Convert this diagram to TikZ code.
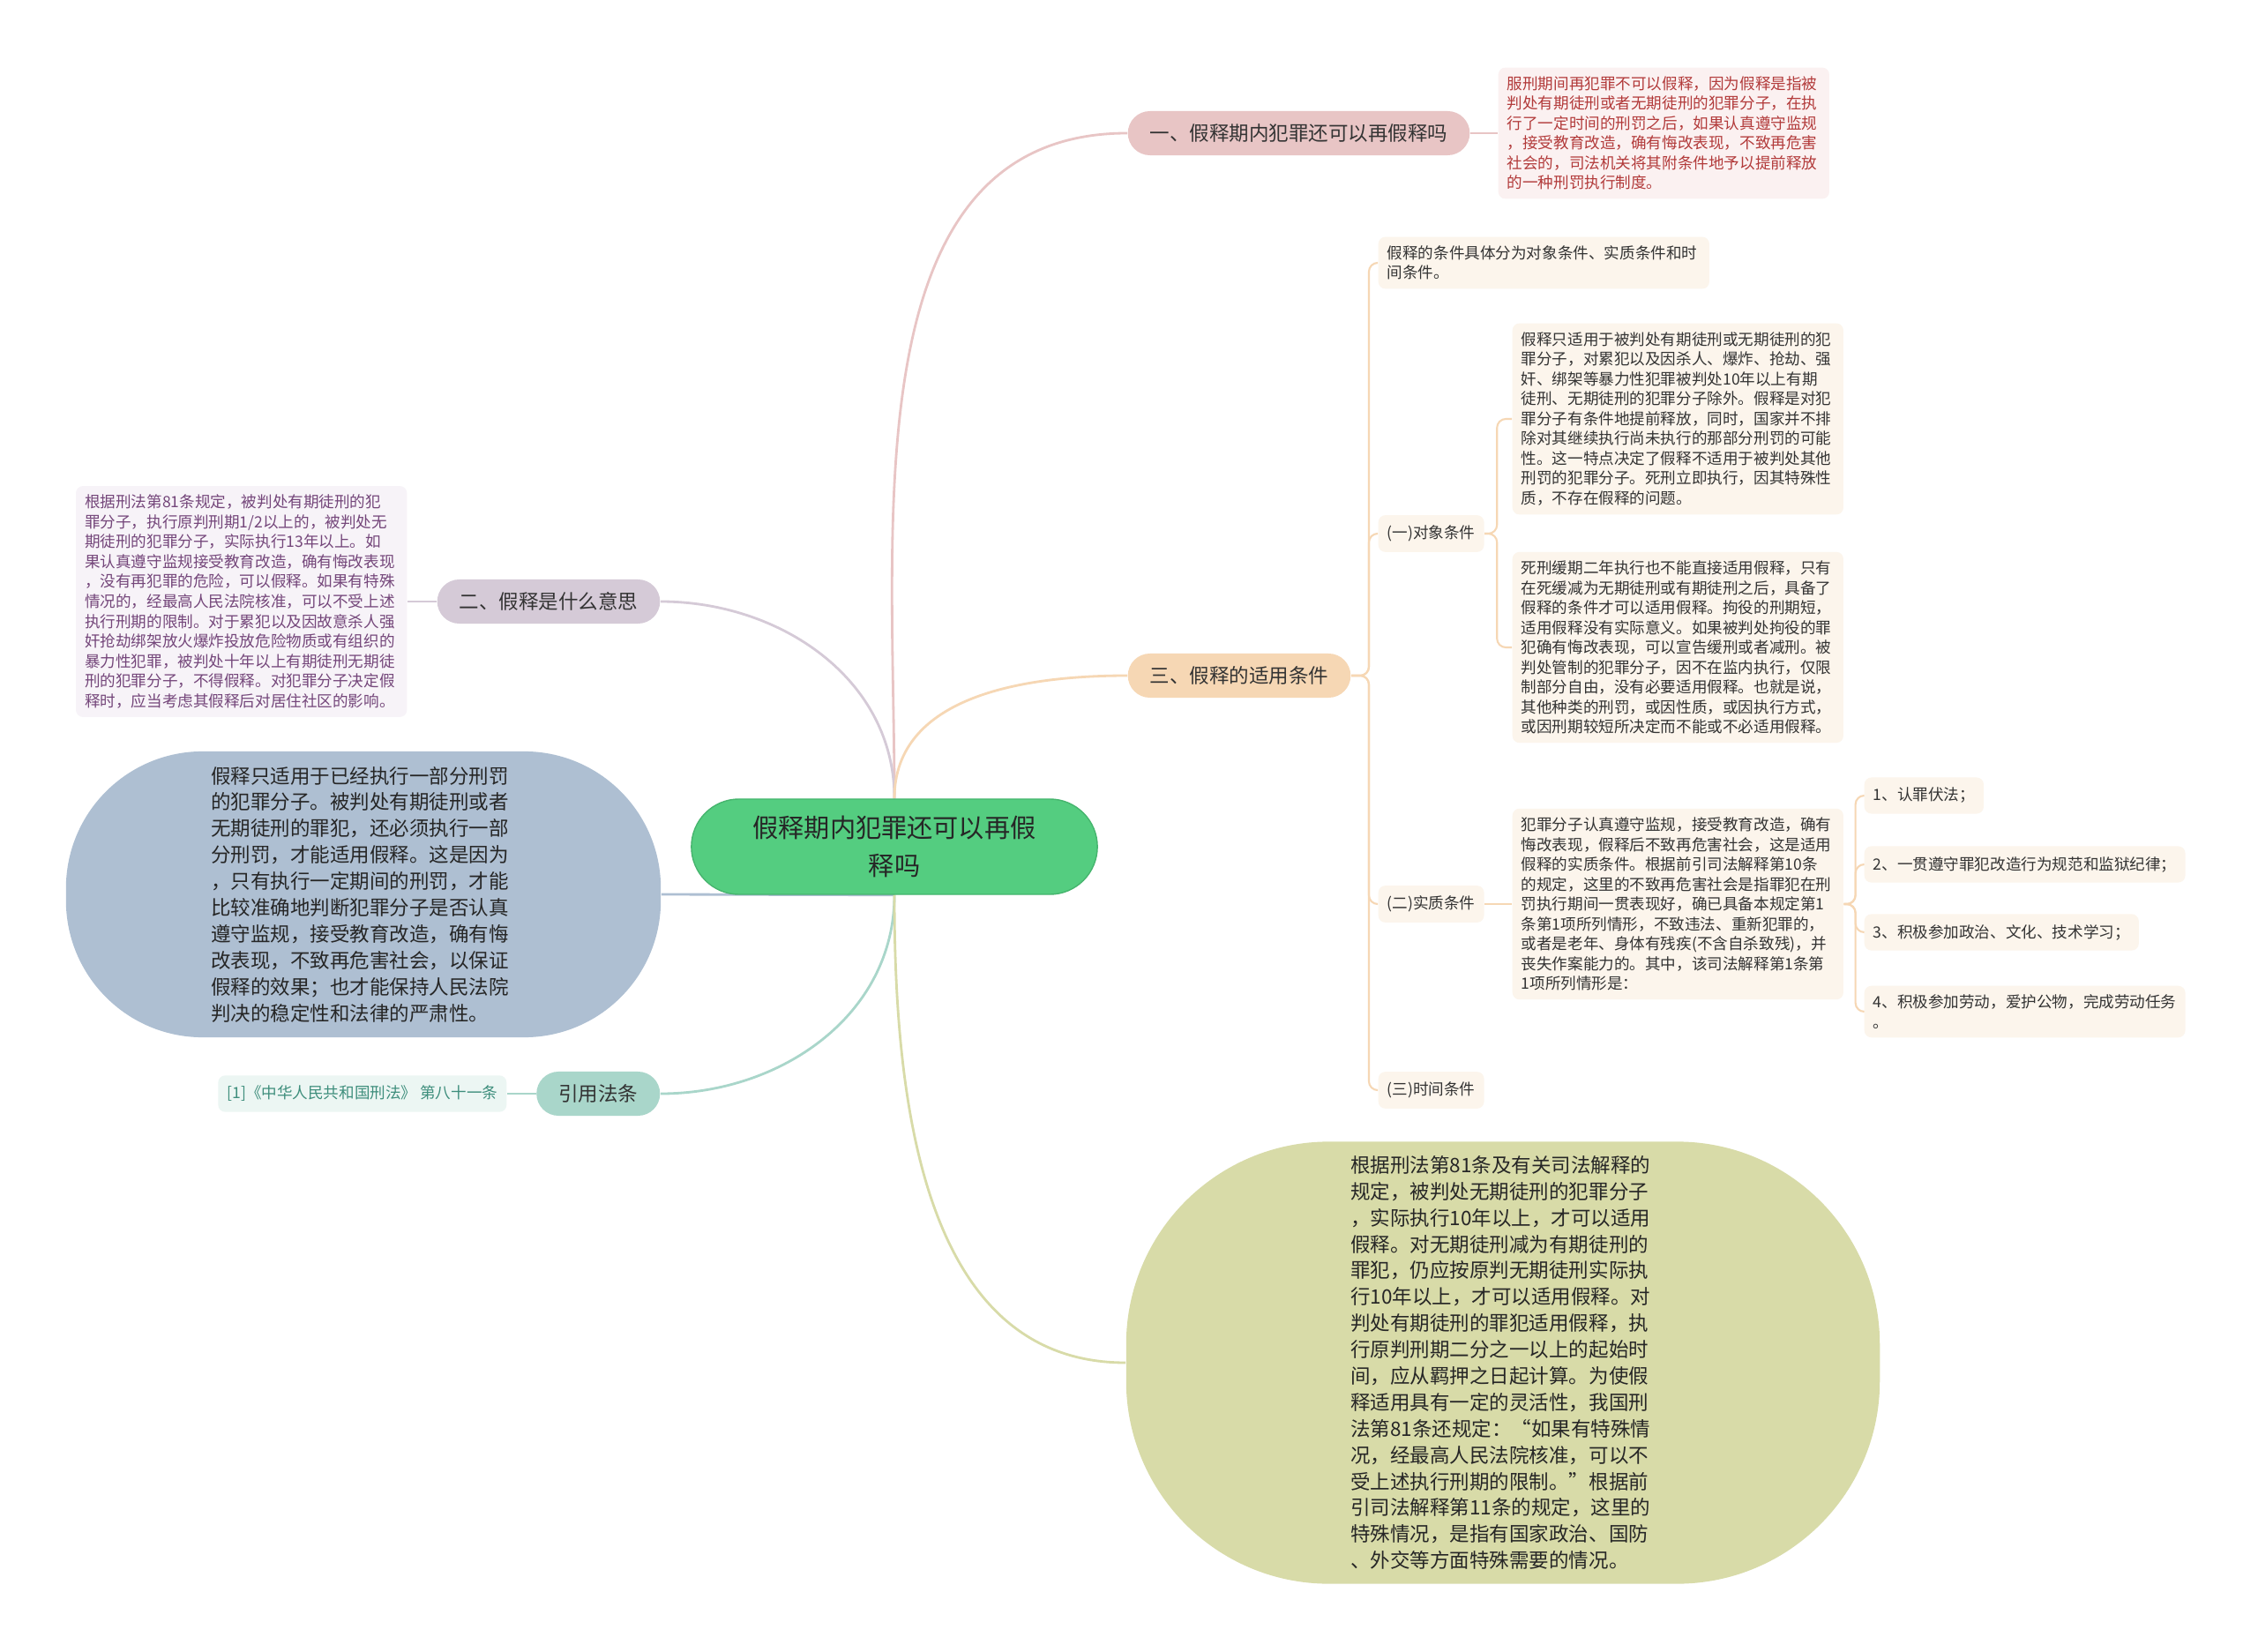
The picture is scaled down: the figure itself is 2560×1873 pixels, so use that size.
\documentclass[tikz,border=0pt]{standalone}
\usepackage{fontspec}
\setmainfont{Noto Sans CJK SC}
\usepackage{xcolor}
\usetikzlibrary{backgrounds}

\definecolor{rootgreen}{HTML}{54CD80}
\definecolor{rootedge}{HTML}{46B56E}
\definecolor{pinkfill}{HTML}{E8C5C5}
\definecolor{pinkpale}{HTML}{FBF1F1}
\definecolor{pinktext}{HTML}{B23A3A}
\definecolor{mauvefill}{HTML}{D5CAD7}
\definecolor{mauvepale}{HTML}{F7F3F8}
\definecolor{mauvetext}{HTML}{74467A}
\definecolor{bluefill}{HTML}{AEBFD2}
\definecolor{tanfill}{HTML}{F6D7B4}
\definecolor{cream}{HTML}{FCF5EC}
\definecolor{tealfill}{HTML}{A9D6CA}
\definecolor{tealpale}{HTML}{ECF6F3}
\definecolor{tealtext}{HTML}{3E8E7C}
\definecolor{olivefill}{HTML}{D8DBA8}

\begin{document}
\begin{tikzpicture}[
    x=0.01cm, y=-0.01cm,
    root/.style={draw=rootedge, fill=rootgreen, text=black!85, rounded corners=0.54cm, minimum width=4.6cm, minimum height=1.08cm, align=center, font=\fontsize{8.3pt}{12.2pt}\selectfont},
    topic/.style={rounded corners=0.25cm, minimum height=0.5cm, inner xsep=0.25cm, text=black!80, font=\fontsize{6.4pt}{8pt}\selectfont},
    leaf/.style={rounded corners=0.08cm, inner sep=0.1cm, text width=3.55cm, align=left, font=\fontsize{5pt}{6.4pt}\selectfont},
    sub/.style={fill=cream, rounded corners=0.08cm, inner xsep=0.1cm, minimum height=0.31cm, align=left, text=black!80, font=\fontsize{5pt}{6.4pt}\selectfont},
    blob/.style={text width=3.45cm, align=left, text=black!85, font=\fontsize{6.4pt}{8.5pt}\selectfont},
    link/.style={line width=0.8pt},
    twig/.style={line width=0.6pt, draw=tanfill, rounded corners=0.1cm},
]
  \node[root] (ctr) at (1014,960) {假释期内犯罪还可以再假\\释吗};

  % upper right branch
  \node[topic, fill=pinkfill, anchor=west] (b1) at (1278,151) {一、假释期内犯罪还可以再假释吗};
  \node[leaf, fill=pinkpale, text=pinktext, anchor=west] (leaf1) at (1698,151) {
    服刑期间再犯罪不可以假释，因为假释是指被\\
    判处有期徒刑或者无期徒刑的犯罪分子，在执\\
    行了一定时间的刑罚之后，如果认真遵守监规\\
    ，接受教育改造，确有悔改表现，不致再危害\\
    社会的，司法机关将其附条件地予以提前释放\\
    的一种刑罚执行制度。};

  % left branch
  \node[topic, fill=mauvefill, anchor=east] (b2) at (749,682) {二、假释是什么意思};
  \node[leaf, fill=mauvepale, text=mauvetext, anchor=east] (leaf2) at (462,682) {
    根据刑法第81条规定，被判处有期徒刑的犯\\
    罪分子，执行原判刑期1/2以上的，被判处无\\
    期徒刑的犯罪分子，实际执行13年以上。如\\
    果认真遵守监规接受教育改造，确有悔改表现\\
    ，没有再犯罪的危险，可以假释。如果有特殊\\
    情况的，经最高人民法院核准，可以不受上述\\
    执行刑期的限制。对于累犯以及因故意杀人强\\
    奸抢劫绑架放火爆炸投放危险物质或有组织的\\
    暴力性犯罪，被判处十年以上有期徒刑无期徒\\
    刑的犯罪分子，不得假释。对犯罪分子决定假\\
    释时，应当考虑其假释后对居住社区的影响。};

  \node[blob, fill=bluefill, rounded corners=1.55cm, minimum width=6.74cm, minimum height=3.24cm] (ell) at (412,1014) {
    假释只适用于已经执行一部分刑罚\\
    的犯罪分子。被判处有期徒刑或者\\
    无期徒刑的罪犯，还必须执行一部\\
    分刑罚，才能适用假释。这是因为\\
    ，只有执行一定期间的刑罚，才能\\
    比较准确地判断犯罪分子是否认真\\
    遵守监规，接受教育改造，确有悔\\
    改表现，不致再危害社会，以保证\\
    假释的效果；也才能保持人民法院\\
    判决的稳定性和法律的严肃性。};

  % conditions branch
  \node[topic, fill=tanfill, anchor=west] (b3) at (1278,766) {三、假释的适用条件};
  \node[leaf, fill=cream, text=black!80, anchor=west] (cond) at (1562,298) {
    假释的条件具体分为对象条件、实质条件和时\\
    间条件。};
  \node[sub, anchor=west] (c1) at (1562,605) {(一)对象条件};
  \node[leaf, fill=cream, text=black!80, anchor=west] (la) at (1714,475) {
    假释只适用于被判处有期徒刑或无期徒刑的犯\\
    罪分子，对累犯以及因杀人、爆炸、抢劫、强\\
    奸、绑架等暴力性犯罪被判处10年以上有期\\
    徒刑、无期徒刑的犯罪分子除外。假释是对犯\\
    罪分子有条件地提前释放，同时，国家并不排\\
    除对其继续执行尚未执行的那部分刑罚的可能\\
    性。这一特点决定了假释不适用于被判处其他\\
    刑罚的犯罪分子。死刑立即执行，因其特殊性\\
    质，不存在假释的问题。};
  \node[leaf, fill=cream, text=black!80, anchor=west] (lb) at (1714,734) {
    死刑缓期二年执行也不能直接适用假释，只有\\
    在死缓减为无期徒刑或有期徒刑之后，具备了\\
    假释的条件才可以适用假释。拘役的刑期短，\\
    适用假释没有实际意义。如果被判处拘役的罪\\
    犯确有悔改表现，可以宣告缓刑或者减刑。被\\
    判处管制的犯罪分子，因不在监内执行，仅限\\
    制部分自由，没有必要适用假释。也就是说，\\
    其他种类的刑罚，或因性质，或因执行方式，\\
    或因刑期较短所决定而不能或不必适用假释。};
  \node[sub, anchor=west] (c2) at (1562,1025) {(二)实质条件};
  \node[leaf, fill=cream, text=black!80, anchor=west] (lc) at (1714,1025) {
    犯罪分子认真遵守监规，接受教育改造，确有\\
    悔改表现，假释后不致再危害社会，这是适用\\
    假释的实质条件。根据前引司法解释第10条\\
    的规定，这里的不致再危害社会是指罪犯在刑\\
    罚执行期间一贯表现好，确已具备本规定第1\\
    条第1项所列情形，不致违法、重新犯罪的，\\
    或者是老年、身体有残疾(不含自杀致残)，并\\
    丧失作案能力的。其中，该司法解释第1条第\\
    1项所列情形是：};
  \node[sub, anchor=west] (i1) at (2113,902) {1、认罪伏法；};
  \node[sub, anchor=west] (i2) at (2113,980) {2、一贯遵守罪犯改造行为规范和监狱纪律；};
  \node[sub, anchor=west] (i3) at (2113,1057) {3、积极参加政治、文化、技术学习；};
  \node[sub, anchor=west, inner ysep=0.1cm] (i4) at (2113,1147) {4、积极参加劳动，爱护公物，完成劳动任务\\。};
  \node[sub, anchor=west] (c3) at (1562,1236) {(三)时间条件};

  \node[blob, fill=olivefill, rounded corners=2.3cm, minimum width=8.54cm, minimum height=5.01cm] (ell2) at (1704,1545) {
    根据刑法第81条及有关司法解释的\\
    规定，被判处无期徒刑的犯罪分子\\
    ，实际执行10年以上，才可以适用\\
    假释。对无期徒刑减为有期徒刑的\\
    罪犯，仍应按原判无期徒刑实际执\\
    行10年以上，才可以适用假释。对\\
    判处有期徒刑的罪犯适用假释，执\\
    行原判刑期二分之一以上的起始时\\
    间，应从羁押之日起计算。为使假\\
    释适用具有一定的灵活性，我国刑\\
    法第81条还规定：“如果有特殊情\\
    况，经最高人民法院核准，可以不\\
    受上述执行刑期的限制。”根据前\\
    引司法解释第11条的规定，这里的\\
    特殊情况，是指有国家政治、国防\\
    、外交等方面特殊需要的情况。};

  % citation branch
  \node[topic, fill=tealfill, anchor=east] (b4) at (749,1240) {引用法条};
  \node[sub, fill=tealpale, text=tealtext, anchor=east] (leaf4) at (575,1240) {[1]《中华人民共和国刑法》 第八十一条};

  \begin{scope}[on background layer]
    \fill[white] (0,0) rectangle (2560,1873);
    \draw[link, draw=pinkfill] (ctr.north) to[out=90, in=180] (b1.west);
    \draw[link, draw=mauvefill] (ctr.north) to[out=90, in=0] (b2.east);
    \draw[link, draw=tanfill] (ctr.north) to[out=90, in=180] (b3.west);
    \draw[link, draw=bluefill] (ctr.south) -- (ell.east);
    \draw[link, draw=tealfill] (ctr.south) to[out=270, in=0] (b4.east);
    \draw[link, draw=olivefill] (ctr.south) to[out=270, in=180] (ell2.west);

    \draw[link, draw=pinkfill] (b1.east) -- (leaf1.west);
    \draw[link, draw=mauvefill] (b2.west) -- (leaf2.east);
    \draw[link, draw=tealfill] (b4.west) -- (leaf4.east);

    \draw[twig] (b3.east) -- ++(20,0) |- (cond.west);
    \draw[twig] (b3.east) -- ++(20,0) |- (c1.west);
    \draw[twig] (b3.east) -- ++(20,0) |- (c2.west);
    \draw[twig] (b3.east) -- ++(20,0) |- (c3.west);
    \draw[twig] (c1.east) -- ++(14,0) |- (la.west);
    \draw[twig] (c1.east) -- ++(14,0) |- (lb.west);
    \draw[twig] (c2.east) -- (lc.west);
    \foreach \k in {i1,i2,i3,i4}
      \draw[twig] (lc.east) -- ++(13,0) |- (\k.west);
  \end{scope}
\end{tikzpicture}
\end{document}
